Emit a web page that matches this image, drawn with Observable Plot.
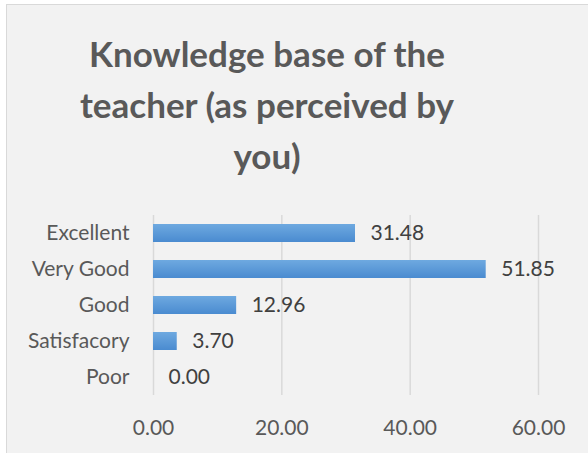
<!DOCTYPE html>
<html>
<head>
<meta charset="utf-8">
<script src="https://cdn.jsdelivr.net/npm/d3@7"></script>
<script src="https://cdn.jsdelivr.net/npm/@observablehq/plot@0.6"></script>
<style>
  html, body { margin: 0; padding: 0; background: #ffffff; }
  #frame { position: absolute; left: 6px; top: 4px; width: 600px; height: 460px; background: #f2f2f2; border: 1.5px solid #d9d9d9; box-sizing: border-box; }
  #title { position: absolute; left: 0; top: 28px; width: 534px; text-align: center; font-family: Lato, sans-serif; font-weight: bold; font-size: 35px; line-height: 51px; color: #595959; }
  #chart { position: absolute; left: 0; top: 200px; }
  #chart svg { font-family: Lato, sans-serif; }
</style>
</head>
<body>
<div id="frame"></div>
<div id="title">Knowledge base of the<br>teacher (as perceived by<br>you)</div>
<div id="chart"></div>
<script>
const categories = ["Excellent", "Very Good", "Good", "Satisfacory", "Poor"];
const values = [31.48, 51.85, 12.96, 3.70, 0.00];
const xTicks = [0, 20, 40, 60];

const data = categories.map((c, i) => ({category: c, value: values[i]}));

const plot = Plot.plot({
  width: 588,
  height: 253,
  marginLeft: 153,
  marginRight: 50,
  marginTop: 15,
  marginBottom: 58,
  style: {background: "transparent", fontSize: "21px", color: "#595959"},
  x: {domain: [0, 60], ticks: xTicks, tickFormat: d => d.toFixed(2), label: null},
  y: {domain: categories, paddingInner: 0.5, paddingOuter: 0.25, label: null},
  marks: [
    Plot.gridX(xTicks, {stroke: "#d9d9d9", strokeOpacity: 1, strokeWidth: 1.5}),
    Plot.barX(data, {x: "value", y: "category", fill: "url(#barGrad)", style: "filter: drop-shadow(2px 3px 2px rgba(0,0,0,0.35))"}),
    Plot.text(data, {x: "value", y: "category", text: d => d.value.toFixed(2), textAnchor: "start", dx: 15, fill: "#404040", fontSize: 21}),
    Plot.axisX(xTicks, {tickSize: 0, tickPadding: 25, fill: "#595959", fontSize: 21, tickFormat: d => d.toFixed(2)}),
    Plot.axisY({tickSize: 0, tickPadding: 24, fill: "#595959", fontSize: 21})
  ]
});

const ns = "http://www.w3.org/2000/svg";
const defs = document.createElementNS(ns, "defs");
defs.innerHTML = '<linearGradient id="barGrad" x1="0" y1="0" x2="0" y2="1"><stop offset="0" stop-color="#6ea9e0"/><stop offset="1" stop-color="#4a8bd0"/></linearGradient>';
plot.insertBefore(defs, plot.firstChild);
document.getElementById("chart").appendChild(plot);
</script>
</body>
</html>
